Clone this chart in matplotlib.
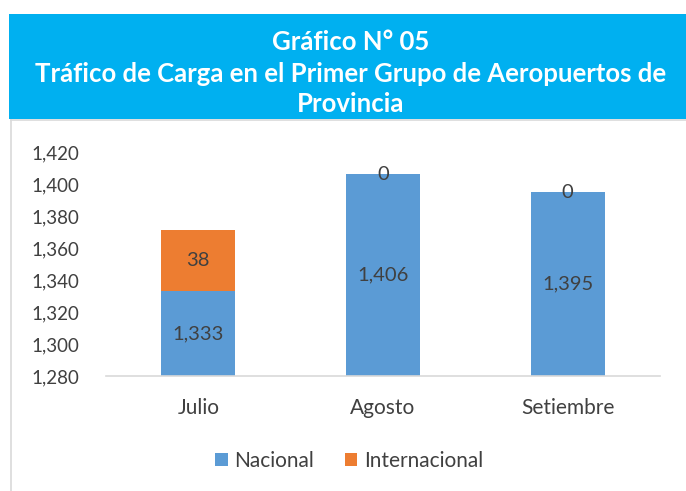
import numpy as np
import matplotlib.pyplot as plt
from matplotlib.patches import Rectangle
from matplotlib.lines import Line2D

meses = ["Julio", "Agosto", "Setiembre"]
nacional = [1333, 1406, 1395]
internacional = [38, 0, 0]
yticks = [1280, 1300, 1320, 1340, 1360, 1380, 1400, 1420]

AZUL = "#5B9BD5"
NARANJA = "#ED7D31"
TXT = "#404040"

plt.rcParams['font.family'] = ['Lato', 'DejaVu Sans']

fig = plt.figure(figsize=(6.86, 4.91), dpi=100)

# banner del titulo
fig.patches.append(Rectangle((9/686, 1 - 119/491), 1, 105/491, transform=fig.transFigure,
                             facecolor="#00B0F0", edgecolor="none", zorder=0))
tx = 351/686
fig.text(tx, 1 - 42/491, "Gráfico N° 05", color="white", fontsize=18.5, fontweight="bold",
         ha="center", va="center")
fig.text(tx, 1 - 74/491, "Tráfico de Carga en el Primer Grupo de Aeropuertos de", color="white",
         fontsize=18.5, fontweight="bold", ha="center", va="center")
fig.text(tx, 1 - 104/491, "Provincia", color="white", fontsize=18.5, fontweight="bold",
         ha="center", va="center")

# borde del area del grafico
fig.lines.append(Line2D([11/686, 11/686], [0, 1 - 120/491], transform=fig.transFigure,
                        color="#D9D9D9", lw=1.2))
fig.lines.append(Line2D([11/686, 1], [1 - 120/491, 1 - 120/491], transform=fig.transFigure,
                        color="#D9D9D9", lw=1.2))

ax = fig.add_axes([106/686, 115/491, 554/686, 224/491])
x = np.arange(len(meses))
b1 = ax.bar(x, nacional, width=0.4, color=AZUL, label="Nacional", bottom=0)
b2 = ax.bar(x, internacional, width=0.4, bottom=nacional, color=NARANJA, label="Internacional")

ax.set_ylim(1280, 1420)
ax.set_xlim(-0.5, 2.5)
ax.set_yticks(yticks)
ax.set_yticklabels([f"{v:,}" for v in yticks], color=TXT, fontsize=13.5)
ax.set_xticks(x)
ax.set_xticklabels(meses, color=TXT, fontsize=15)
ax.tick_params(axis="both", length=0)
ax.tick_params(axis="x", pad=16)
ax.tick_params(axis="y", pad=19)
for s in ["top", "right", "left"]:
    ax.spines[s].set_visible(False)
ax.spines["bottom"].set_color("#D9D9D9")
ax.spines["bottom"].set_linewidth(1.2)

for i in range(len(meses)):
    ax.text(x[i], (1280 + nacional[i]) / 2, f"{nacional[i]:,}", ha="center", va="center",
            color=TXT, fontsize=14.5)
    ax.text(x[i], nacional[i] + internacional[i] / 2, f"{internacional[i]:,}", ha="center",
            va="center", color=TXT, fontsize=14.5)

fig.legend(handles=[b1, b2], loc="center", bbox_to_anchor=(349/686, 1 - 461/491), ncol=2,
           frameon=False, fontsize=15, handlelength=0.6, handleheight=0.6, handletextpad=0.3,
           columnspacing=1.5, labelcolor=TXT)

fig.savefig("out.png", dpi=100)
